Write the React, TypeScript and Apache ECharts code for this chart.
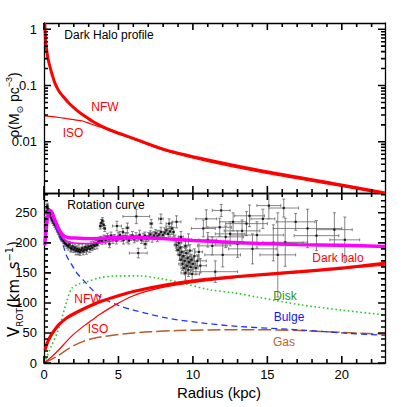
import React, { useEffect, useRef } from "react";
import * as echarts from "echarts";

// ---------- axes ----------
const X_MAX = 22.9;
const RHO_MIN = 0.00123;
const RHO_MAX = 1.29;
const V_MAX = 283;
const xMajor = [0, 5, 10, 15, 20];
const xMinor = [1, 2, 3, 4, 6, 7, 8, 9, 11, 12, 13, 14, 16, 17, 18, 19, 21, 22];
const rhoMajor = [0.01, 0.1, 1];
const rhoMinor = [0.002, 0.003, 0.004, 0.005, 0.006, 0.007, 0.008, 0.009, 0.02, 0.03, 0.04, 0.05, 0.06, 0.07, 0.08, 0.09, 0.2, 0.3, 0.4, 0.5, 0.6, 0.7, 0.8, 0.9];
const vMajor = [0, 50, 100, 150, 200, 250];
const vMinor = [10, 20, 30, 40, 60, 70, 80, 90, 110, 120, 130, 140, 160, 170, 180, 190, 210, 220, 230, 240, 260, 270, 280];

// ---------- top panel: density profiles ----------
const rhoNfwR = [0.05, 0.1, 0.18, 0.28, 0.4, 0.55, 0.74, 1.0, 1.3, 1.7, 2.19, 2.7, 3.31, 4.43, 6.0, 8.23, 11.1, 14.95, 19.4, 22.9];
const rhoNfwV = [1.3, 0.72, 0.43, 0.29, 0.216, 0.155, 0.109, 0.08, 0.063, 0.048, 0.0366, 0.029, 0.0227, 0.0162, 0.0115, 0.0071, 0.0047, 0.00293, 0.00182, 0.00123];
const rhoIsoR = [0.05, 0.4, 1.0, 1.5, 2.0, 2.64, 3.2, 3.76, 4.43, 6.0, 8.23, 11.1, 14.95, 19.4, 22.9];
const rhoIsoV = [0.0288, 0.0282, 0.027, 0.0258, 0.0247, 0.0232, 0.0205, 0.0183, 0.0158, 0.0111, 0.0068, 0.0044, 0.00275, 0.00172, 0.00117];

// ---------- bottom panel: rotation curve components ----------
const haloNfwR = [0.07, 0.2, 0.38, 0.6, 0.8, 1.05, 1.5, 2.17, 3.0, 3.76, 5, 6, 8.23, 10.47, 13, 17.2, 20, 22.9];
const haloNfwV = [22, 32, 42, 51, 58, 65, 74.5, 84, 94, 102, 112, 119, 130, 138, 144, 152, 158, 166];
const haloIsoR = [0.0, 0.5, 1.0, 1.52, 2.0, 2.64, 3.2, 3.76, 4.87, 6, 7, 8.23, 9.5, 11, 14, 17.2, 20, 22.9];
const haloIsoV = [0, 10, 22, 36, 48, 61, 71, 81, 98, 112, 120, 127, 132, 137, 145, 151, 157, 163];
const diskR = [0, 0.4, 0.96, 1.52, 1.86, 2.3, 2.86, 3.76, 4.87, 6.4, 7.7, 9.3, 11.1, 12.7, 14.5, 17.2, 20, 22.9];
const diskV = [0, 23, 55, 102, 124, 131, 135, 142, 145, 145, 141, 133, 122, 117, 109, 97, 88, 80];
const bulgeR = [0.05, 0.15, 0.25, 0.4, 0.55, 0.75, 1.0, 1.3, 1.52, 1.88, 2.2, 2.64, 3.2, 3.76, 5, 6, 8.23, 10.5, 13, 17.2, 20, 22.9];
const bulgeV = [200, 238, 251, 253, 244, 228, 212, 195, 178, 163, 150, 138, 123, 110, 96, 88, 75, 67, 61, 55, 50, 46];
const gasR = [0, 0.5, 1.0, 1.52, 2.0, 2.64, 3.5, 4.87, 6, 7.1, 9, 11.1, 14, 17.2, 20, 22.9];
const gasV = [0, 6, 13, 22, 29, 36, 42, 47, 50, 52, 54, 55, 55.5, 54, 51, 48];
const totNfwR = [0.05, 0.12, 0.2, 0.3, 0.42, 0.55, 0.7, 0.98, 1.2, 1.43, 1.7, 2.1, 3.2, 4.3, 5.5, 7, 8, 10, 12.5, 14.5, 17, 20, 22.9];
const totNfwV = [196, 215, 235, 249, 254, 250, 240, 224, 215, 210, 208.5, 208, 207, 208, 210, 208, 207, 204, 201, 199, 197, 196, 194];
const totIsoR = [0.05, 0.12, 0.2, 0.3, 0.42, 0.55, 0.7, 0.98, 1.3, 1.88, 2.77, 3.5, 4.34, 5.0, 5.68, 6.5, 7, 8, 10, 12.5, 14.5, 17, 20, 22.9];
const totIsoV = [195, 214, 234, 248, 253, 249, 238, 220, 207, 200, 199, 200, 202, 205, 207, 208, 208, 207, 204, 201, 199, 197, 196, 194];

// ---------- observed rotation velocities ----------
const obsR = [
  0.10, 0.15, 0.19, 0.23, 0.27, 0.31, 0.35, 0.40, 0.46, 0.52, 0.58, 0.65, 0.72, 0.80, 0.88, 0.96, 1.05, 1.14, 1.22, 1.30, 1.38, 1.46,
  1.55, 1.63, 1.70, 1.78, 1.85, 1.92, 2.00, 2.07, 2.14, 2.21, 2.28, 2.35, 2.42, 2.50, 2.57, 2.64, 2.71, 2.78, 2.85, 2.92, 3.00, 3.08, 3.16, 3.24, 3.32, 3.40, 3.48, 3.56, 3.64, 3.72,
  3.78, 3.85, 3.92, 4.00, 4.08,
  3.80, 3.90, 4.02, 4.14, 4.26, 4.38, 4.50, 4.62, 4.74, 4.86, 4.98, 5.10, 5.22, 5.34, 5.46, 5.58, 5.70, 5.82, 5.94, 6.06, 6.18, 6.30, 6.42, 6.54, 6.66, 6.78, 6.90, 7.02, 7.14, 7.26, 7.38, 7.50, 7.62, 7.74, 7.86, 7.98, 8.10, 8.22, 8.34, 8.46, 8.58, 8.70,
  4.90, 5.60, 6.20, 6.33, 7.20, 7.85, 8.40, 8.90, 5.30, 4.40, 6.80,
  8.80, 8.90, 9.00, 9.05, 9.10, 9.15, 9.20, 9.25, 9.30, 9.35, 9.40, 9.45, 9.50, 9.55, 9.60, 9.65, 9.70, 9.75, 9.80, 9.85, 9.90, 9.95, 10.00, 10.10, 10.20, 10.30, 10.40, 10.50, 9.50, 9.20, 9.70,
  10.70, 11.00, 11.30, 11.50, 11.80, 11.90, 12.20, 12.50, 12.70, 13.00, 13.30, 13.60, 14.00, 14.30, 14.70, 15.10, 15.40, 15.70, 16.10, 16.20, 16.90, 17.70, 19.50, 20.20, 18.30, 13.80, 12.00, 10.90,
];
const obsV = [
  238, 252, 259, 262, 257, 253, 249, 246, 242, 239, 236, 233, 230, 226, 222, 218, 214, 210, 206, 203, 200, 198,
  196, 194, 197, 192, 190, 194, 189, 192, 187, 190, 186, 189, 185, 188, 191, 186, 189, 193, 188, 191, 194, 190, 195, 192, 197, 195, 199, 197, 201, 204,
  228, 233, 237, 230, 224,
  206, 203, 208, 205, 210, 207, 212, 206, 209, 204, 210, 213, 207, 205, 211, 208, 204, 209, 212, 206, 210, 208, 213, 205, 209, 212, 207, 210, 214, 209, 212, 216, 211, 214, 218, 213, 217, 221, 215, 219, 224, 218,
  228, 225, 244, 183, 232, 240, 232, 235, 218, 198, 198,
  205, 196, 188, 200, 180, 192, 172, 185, 165, 178, 158, 170, 150, 183, 162, 175, 155, 168, 187, 160, 172, 148, 165, 178, 158, 170, 185, 162, 195, 210, 205,
  224, 205, 195, 152, 226, 254, 210, 215, 235, 198, 220, 232, 190, 213, 240, 262, 200, 180, 258, 201, 235, 224, 222, 205, 212, 245, 180, 240,
];
const obsErrR = [
  0.02, 0.02, 0.02, 0.02, 0.02, 0.02, 0.02, 0.03, 0.03, 0.03, 0.03, 0.03, 0.04, 0.04, 0.04, 0.04, 0.05, 0.05, 0.05, 0.05, 0.05, 0.05,
  0.05, 0.05, 0.05, 0.05, 0.05, 0.05, 0.05, 0.05, 0.05, 0.05, 0.05, 0.05, 0.05, 0.05, 0.05, 0.05, 0.05, 0.05, 0.05, 0.05, 0.05, 0.05, 0.05, 0.05, 0.05, 0.05, 0.05, 0.05, 0.05, 0.05,
  0.06, 0.06, 0.06, 0.06, 0.06,
  0.05, 0.05, 0.05, 0.05, 0.05, 0.05, 0.05, 0.05, 0.05, 0.05, 0.05, 0.05, 0.05, 0.05, 0.05, 0.05, 0.05, 0.05, 0.05, 0.05, 0.05, 0.05, 0.05, 0.05, 0.05, 0.05, 0.05, 0.05, 0.05, 0.05, 0.05, 0.05, 0.05, 0.05, 0.05, 0.05, 0.05, 0.05, 0.05, 0.05, 0.05, 0.05,
  0.3, 0.1, 0.9, 0.6, 0.1, 0.15, 0.2, 0.3, 0.05, 0.05, 0.1,
  0.1, 0.15, 0.1, 0.2, 0.1, 0.3, 0.1, 0.15, 0.25, 0.1, 0.2, 0.1, 0.3, 0.15, 0.1, 0.4, 0.2, 0.1, 0.15, 0.3, 0.1, 0.5, 0.2, 0.3, 0.15, 0.6, 0.25, 0.4, 0.1, 0.15, 0.2,
  0.8, 0.6, 1.0, 1.5, 0.8, 0.6, 1.2, 1.0, 0.9, 1.5, 1.2, 1.4, 1.6, 1.8, 0.8, 0.8, 2.0, 1.2, 1.0, 1.5, 1.3, 2.3, 1.2, 1.0, 1.5, 1.0, 1.2, 0.7,
];
const obsErrV = [
  6, 5, 5, 4, 4, 4, 4, 4, 4, 4, 4, 4, 4, 4, 4, 4, 4, 4, 4, 4, 4, 4,
  5, 6, 5, 7, 5, 6, 5, 6, 7, 5, 6, 8, 6, 5, 7, 6, 5, 6, 7, 6, 5, 6, 7, 5, 6, 6, 5, 7, 6, 5,
  5, 6, 5, 6, 5,
  5, 6, 5, 7, 6, 5, 6, 7, 5, 6, 7, 6, 5, 7, 6, 8, 6, 5, 7, 6, 7, 5, 8, 6, 7, 6, 5, 7, 6, 8, 7, 6, 9, 7, 8, 6, 8, 7, 9, 8, 10, 8,
  8, 8, 12, 8, 7, 8, 8, 10, 6, 6, 7,
  8, 9, 8, 10, 9, 8, 10, 9, 11, 8, 10, 9, 12, 9, 10, 8, 11, 9, 10, 12, 9, 11, 10, 12, 11, 10, 13, 12, 8, 9, 10,
  14, 12, 15, 18, 15, 10, 18, 20, 15, 22, 18, 20, 25, 22, 16, 22, 30, 70, 15, 40, 14, 32, 28, 38, 25, 18, 20, 15,
];

const FONT = '"Liberation Sans", Arial, Helvetica, sans-serif';
const RED = "#ff0000";
const MAGENTA = "#ff00ff";
const MAJOR_LEN = 7;
const MINOR_LEN = 4;
const PLOT_W = 341;
const PANEL_H = 170;

function pairs(xs: number[], ys: number[]) {
  return xs.map((x, i) => [x, ys[i]]);
}

function mkX(gridIndex: number, position: string, labels = false) {
  return {
    type: "value",
    gridIndex,
    position,
    min: 0,
    max: X_MAX,
    axisLine: { show: true, onZero: false, lineStyle: { color: "#000", width: 1.3 } },
    axisTick: { show: false },
    axisLabel: labels
      ? { show: true, customValues: xMajor, color: "#000", fontFamily: FONT, fontSize: 13, margin: 5 }
      : { show: false },
    splitLine: { show: false },
  };
}

function mkY(gridIndex: number, position: string, type: string, min: number, max: number, ticks: number[] | null) {
  return {
    type,
    gridIndex,
    position,
    min,
    max,
    axisLine: { show: true, onZero: false, lineStyle: { color: "#000", width: 1.3 } },
    axisTick: { show: false },
    axisLabel: ticks
      ? { show: true, customValues: ticks, color: "#000", fontFamily: FONT, fontSize: 13, margin: 7 }
      : { show: false },
    splitLine: { show: false },
  };
}

// Tick marks as broken polylines in data space (a "-" value breaks the line).
function tickLine(xi: number, yi: number, yLo: number, yHi: number, yMaj: number[], yMin: number[],
  yIn: (v: number, px: number) => number) {
  const kpcPerPx = X_MAX / PLOT_W;
  const d: any[] = [];
  const addX = (vals: number[], len: number) =>
    vals.forEach((v) => {
      d.push([v, yLo], [v, yIn(yLo, len)], [v, "-"]);
      d.push([v, yHi], [v, yIn(yHi, -len)], [v, "-"]);
    });
  const addY = (vals: number[], len: number) =>
    vals.forEach((v) => {
      d.push([0, v], [len * kpcPerPx, v], [0, "-"]);
      d.push([X_MAX, v], [X_MAX - len * kpcPerPx, v], [X_MAX, "-"]);
    });
  addX(xMajor, MAJOR_LEN);
  addX(xMinor, MINOR_LEN);
  addY(yMaj, MAJOR_LEN);
  addY(yMin, MINOR_LEN);
  return {
    type: "line",
    xAxisIndex: xi,
    yAxisIndex: yi,
    data: d,
    showSymbol: false,
    symbol: "none",
    connectNulls: false,
    clip: false,
    smooth: false,
    lineStyle: { color: "#000", width: 1.6 },
    z: 5,
    silent: true,
  };
}

function line(data: number[][], xi: number, yi: number, color: string, width: number, type: any = "solid", z = 3) {
  return {
    type: "line",
    xAxisIndex: xi,
    yAxisIndex: yi,
    data,
    showSymbol: false,
    symbol: "none",
    smooth: 0.3,
    lineStyle: { color, width, type },
    z,
    silent: true,
  };
}

function label(text: string, x: number, y: number, fill: string, size = 12) {
  return {
    type: "text",
    x,
    y,
    z: 10,
    style: { text, fill, font: `${size}px ${FONT}`, align: "center", verticalAlign: "middle" },
  };
}

export default function App() {
  const ref = useRef<HTMLDivElement>(null);

  useEffect(() => {
    if (!ref.current) return;
    const chart = echarts.init(ref.current, null, { renderer: "svg" });

    const obsData = obsR.map((r, i) => [r, obsV[i], obsErrR[i], obsErrV[i]]);
    const decadePx = PANEL_H / Math.log10(RHO_MAX / RHO_MIN);
    const logIn = (v: number, px: number) => v * Math.pow(10, px / decadePx);
    const vPerPx = V_MAX / PANEL_H;
    const linIn = (v: number, px: number) => v + px * vPerPx;

    const option: any = {
      animation: false,
      backgroundColor: "#fff",
      grid: [
        { left: 44, top: 23, width: PLOT_W, height: PANEL_H },
        { left: 44, top: 193, width: PLOT_W, height: PANEL_H },
      ],
      xAxis: [mkX(0, "bottom"), mkX(0, "top"), mkX(1, "bottom", true), mkX(1, "top")],
      yAxis: [
        mkY(0, "left", "log", RHO_MIN, RHO_MAX, rhoMajor),
        mkY(0, "right", "log", RHO_MIN, RHO_MAX, null),
        mkY(1, "left", "value", 0, V_MAX, vMajor),
        mkY(1, "right", "value", 0, V_MAX, null),
      ],
      series: [
        line(pairs(rhoIsoR, rhoIsoV), 0, 0, RED, 1.2),
        line(pairs(rhoNfwR, rhoNfwV), 0, 0, RED, 3),
        {
          type: "custom",
          xAxisIndex: 2,
          yAxisIndex: 2,
          clip: true,
          z: 1,
          silent: true,
          data: obsData,
          encode: { x: 0, y: 1 },
          renderItem: (params: any, api: any) => {
            const r = api.value(0);
            const v = api.value(1);
            const dr = api.value(2);
            const dv = api.value(3);
            const l = api.coord([r - dr, v]);
            const rr = api.coord([r + dr, v]);
            const b = api.coord([r, v - dv]);
            const t = api.coord([r, v + dv]);
            const st = { stroke: "#666", lineWidth: 0.8 };
            const c = 1.5;
            return {
              type: "group",
              children: [
                { type: "line", shape: { x1: l[0], y1: l[1], x2: rr[0], y2: rr[1] }, style: st },
                { type: "line", shape: { x1: b[0], y1: b[1], x2: t[0], y2: t[1] }, style: st },
                { type: "line", shape: { x1: l[0], y1: l[1] - c, x2: l[0], y2: l[1] + c }, style: st },
                { type: "line", shape: { x1: rr[0], y1: rr[1] - c, x2: rr[0], y2: rr[1] + c }, style: st },
                { type: "line", shape: { x1: b[0] - c, y1: b[1], x2: b[0] + c, y2: b[1] }, style: st },
                { type: "line", shape: { x1: t[0] - c, y1: t[1], x2: t[0] + c, y2: t[1] }, style: st },
              ],
            };
          },
        },
        {
          type: "scatter",
          xAxisIndex: 2,
          yAxisIndex: 2,
          data: obsData.map((d) => [d[0], d[1]]),
          symbol: "rect",
          symbolSize: 2.2,
          itemStyle: { color: "#000" },
          z: 2,
          silent: true,
        },
        line(pairs(gasR, gasV), 2, 2, "#b35c2e", 1.5, [13, 4]),
        line(pairs(bulgeR, bulgeV), 2, 2, "#2233ff", 1.3, [6, 4]),
        line(pairs(diskR, diskV), 2, 2, "#22cc22", 1.6, [1.6, 2.6]),
        line(pairs(haloIsoR, haloIsoV), 2, 2, RED, 1.2),
        line(pairs(haloNfwR, haloNfwV), 2, 2, RED, 3.2),
        line(pairs(totIsoR, totIsoV), 2, 2, MAGENTA, 1.5, "solid", 4),
        line(pairs(totNfwR, totNfwV), 2, 2, MAGENTA, 3.4, "solid", 4),
        tickLine(0, 0, RHO_MIN, RHO_MAX, rhoMajor, rhoMinor, logIn),
        tickLine(2, 2, 0, V_MAX, vMajor, vMinor, linIn),
      ],
      graphic: [
        label("Dark Halo profile", 109, 35, "#000"),
        label("Rotation curve", 106, 205, "#000"),
        label("NFW", 105, 107, RED),
        label("ISO", 73, 133, RED),
        label("NFW", 88, 299, RED),
        label("ISO", 98, 329, RED),
        label("Dark halo", 338, 258, RED),
        label("Disk", 285, 296, "#1a961a"),
        label("Bulge", 289, 317, "#1414ff"),
        label("Gas", 284, 342, "#b4642d"),
        label("Radius (kpc)", 219, 392, "#000", 15),
        {
          type: "text",
          x: 14,
          y: 105,
          rotation: Math.PI / 2,
          z: 10,
          style: {
            text: "{a|ρ(M}{s|⊙}{a| pc}{p|−3}{a|)}",
            align: "center",
            verticalAlign: "middle",
            fill: "#000",
            rich: {
              a: { fontFamily: FONT, fontSize: 14, lineHeight: 20, fill: "#000", verticalAlign: "middle" },
              s: { fontFamily: "DejaVu Sans", fontSize: 9, lineHeight: 9, fill: "#000", verticalAlign: "bottom" },
              p: { fontFamily: FONT, fontSize: 9, lineHeight: 9, fill: "#000", verticalAlign: "top" },
            },
          },
        },
        {
          type: "text",
          x: 14,
          y: 289,
          rotation: Math.PI / 2,
          z: 10,
          style: {
            text: "{a|V}{s|ROT}{a|(km  s}{p|−1}{a|)}",
            align: "center",
            verticalAlign: "middle",
            fill: "#000",
            rich: {
              a: { fontFamily: "DejaVu Sans", fontSize: 15, lineHeight: 20, fill: "#000", verticalAlign: "middle" },
              s: { fontFamily: "DejaVu Sans", fontSize: 9, lineHeight: 9, fill: "#000", verticalAlign: "bottom" },
              p: { fontFamily: "DejaVu Sans", fontSize: 10, lineHeight: 10, fill: "#000", verticalAlign: "top" },
            },
          },
        },
      ],
    };

    chart.setOption(option);
    return () => chart.dispose();
  }, []);

  return <div ref={ref} style={{ position: "fixed", left: 0, top: 0, width: 407, height: 407, background: "#fff" }} />;
}
